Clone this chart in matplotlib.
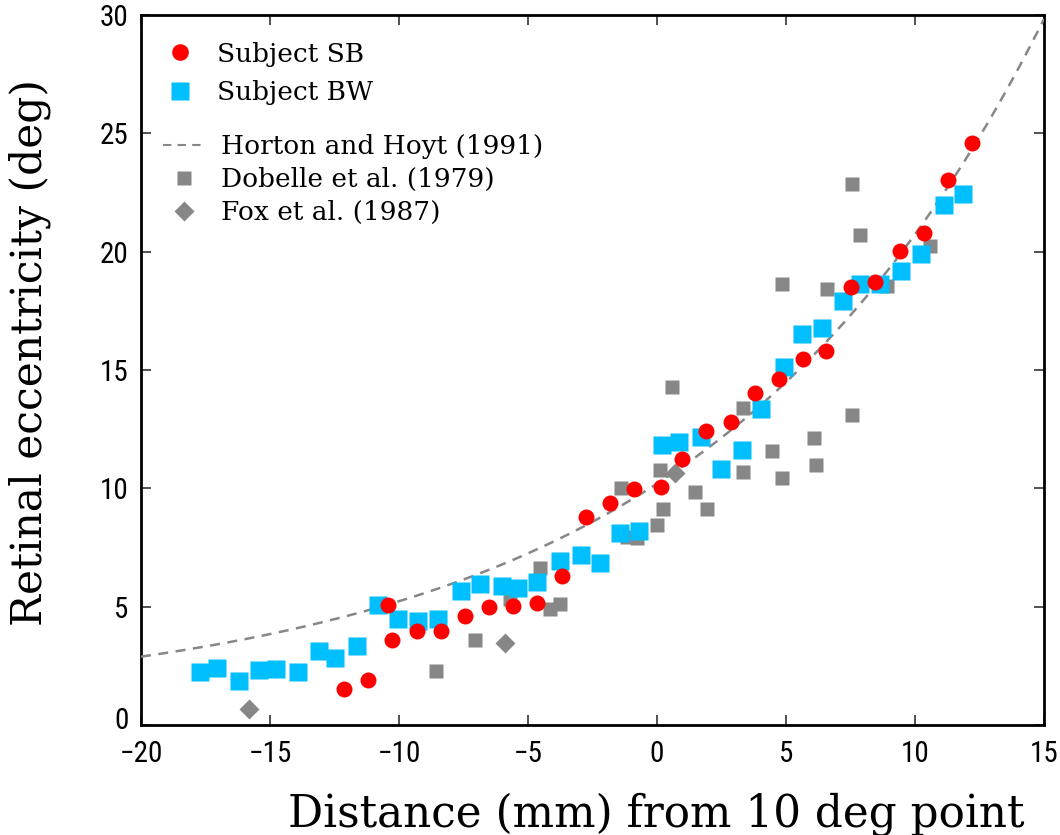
import numpy as np
import matplotlib
matplotlib.use("Agg")
import matplotlib.pyplot as plt
import matplotlib.transforms as mtransforms
from matplotlib.lines import Line2D
from matplotlib import font_manager

# subject SB (red circles)
sb_x = [-12.13, -11.20, -10.41, -10.26, -9.32, -8.38, -7.44, -6.51, -5.57, -4.64,
        -3.69, -2.76, -1.83, -0.90, 0.17, 0.98, 1.91, 2.86, 3.79, 4.72,
        5.66, 6.56, 7.53, 8.46, 9.41, 10.33, 11.28, 12.22]
sb_y = [1.52, 1.91, 5.08, 3.60, 3.99, 3.97, 4.60, 5.00, 5.01, 5.15,
        6.28, 8.80, 9.38, 9.97, 10.04, 11.24, 12.42, 12.80, 14.04, 14.63,
        15.45, 15.80, 18.50, 18.72, 20.03, 20.77, 23.05, 24.61]

# subject BW (blue squares)
bw_x = [-17.71, -17.06, -16.21, -15.44, -14.75, -13.93, -13.10, -12.50, -11.61, -10.80,
        -10.05, -9.27, -8.49, -7.60, -6.86, -6.02, -5.38, -4.67, -3.77, -2.94,
        -2.21, -1.43, -0.71, 0.19, 0.85, 1.69, 2.48, 3.29, 4.03, 4.91,
        5.62, 6.38, 7.21, 7.87, 8.64, 9.46, 10.23, 11.11, 11.85]
bw_y = [2.24, 2.40, 1.86, 2.32, 2.35, 2.22, 3.14, 2.83, 3.35, 5.06,
        4.48, 4.39, 4.46, 5.68, 5.97, 5.87, 5.80, 6.05, 6.94, 7.19,
        6.86, 8.11, 8.21, 11.85, 11.98, 12.17, 10.82, 11.62, 13.35, 15.14,
        16.53, 16.79, 17.92, 18.62, 18.62, 19.20, 19.90, 21.98, 22.45]

# Dobelle et al. (1979)
dob_x = [-8.58, -7.07, -5.70, -4.52, -4.14, -3.77, -1.40, -1.18, -0.77, 0.00,
         0.12, 0.24, 0.58, 1.47, 1.95, 3.32, 3.35, 4.45, 4.86, 4.84,
         6.10, 6.17, 6.58, 7.56, 7.88, 7.57, 8.90, 10.58]
dob_y = [2.28, 3.60, 5.31, 6.65, 4.91, 5.10, 10.01, 7.96, 7.90, 8.45,
         10.77, 9.11, 14.29, 9.84, 9.13, 13.38, 10.70, 11.58, 10.42, 18.64,
         12.11, 10.98, 18.42, 22.88, 20.70, 13.10, 18.56, 20.25]

# Fox et al. (1987)
fox_x = [-15.81, -5.88, 0.69]
fox_y = [0.69, 3.46, 10.66]

# Horton and Hoyt (1991) curve, parameters fitted to the figure
hh_a, hh_b, hh_c = 9.4, 0.0752, 0.8

GRAY = "#878787"
RED = "#ff0000"
BLUE = "#00bfff"
SERIF = ["DejaVu Serif"]

# condensed sans for the tick labels, if one is around
have = {f.name for f in font_manager.fontManager.ttflist}
SANS = [f for f in ["Liberation Sans Narrow", "DejaVu Sans Condensed", "Roboto Condensed"]
        if f in have] + ["DejaVu Sans"]
cond = SANS[0] != "DejaVu Sans"

fig = plt.figure(figsize=(10.6, 8.35), dpi=100)
ax = fig.add_axes([0.133, 0.1317, 0.852, 0.8503])

xc = np.linspace(-20, 15, 300)
ax.plot(dob_x, dob_y, "s", ms=9.5, color=GRAY, mec="none", zorder=2)
ax.plot(fox_x, fox_y, "D", ms=10, color=GRAY, mec="none", zorder=3)
ax.plot(xc, hh_a * np.exp(hh_b * xc) + hh_c, "--", color=GRAY, lw=1.8,
        dashes=(4, 3), zorder=4)
ax.plot(bw_x, bw_y, "s", ms=13, color=BLUE, mec="none", zorder=5)
ax.plot(sb_x, sb_y, "o", ms=11.5, color=RED, mec="none", zorder=6)

ax.set_xlim(-20, 15)
ax.set_ylim(0, 30)
ax.set_xticks(range(-20, 16, 5))
ax.set_yticks(range(0, 31, 5))
ax.tick_params(direction="in", length=7, width=1.2, top=True, right=True,
               labelsize=21 if cond else 17, pad=9, color="#333333")
ax.tick_params(axis="x", pad=11)
for lab in ax.get_xticklabels() + ax.get_yticklabels():
    lab.set_family(SANS)
# the 0 on the y axis sits a little higher, clear of the -20
lab0 = ax.get_yticklabels()[0]
lab0.set_transform(lab0.get_transform()
                   + mtransforms.ScaledTranslation(0, 7 / 100, fig.dpi_scale_trans))
for s in ax.spines.values():
    s.set_linewidth(2)

ax.set_xlabel("Distance (mm) from 10 deg point", fontsize=31.5, family=SERIF)
ax.xaxis.set_label_coords(0.571, -0.095, transform=ax.transAxes)
ax.xaxis.label.set_va("top")
ax.set_ylabel("Retinal eccentricity (deg)", fontsize=30.5, family=SERIF)
ax.yaxis.set_label_coords(-0.10, 0.525, transform=ax.transAxes)

h1 = [Line2D([], [], ls="none", marker="o", ms=12, color=RED, mec="none"),
      Line2D([], [], ls="none", marker="s", ms=13, color=BLUE, mec="none")]
leg1 = ax.legend(h1, ["Subject SB", "Subject BW"], loc="upper left",
                 bbox_to_anchor=(-0.006, 0.996), frameon=False, handlelength=1.6,
                 handletextpad=0.6, labelspacing=0.52,
                 prop={"family": SERIF, "size": 19})
ax.add_artist(leg1)
h2 = [Line2D([], [], ls="--", color=GRAY, lw=1.5, dashes=(4, 3)),
      Line2D([], [], ls="none", marker="s", ms=10, color=GRAY, mec="none"),
      Line2D([], [], ls="none", marker="D", ms=10, color=GRAY, mec="none")]
ax.legend(h2, ["Horton and Hoyt (1991)", "Dobelle et al. (1979)", "Fox et al. (1987)"],
          loc="upper left", bbox_to_anchor=(-0.002, 0.866), frameon=False,
          handlelength=1.6, handletextpad=0.6, labelspacing=0.3,
          prop={"family": SERIF, "size": 19})

fig.savefig("out.png", dpi=100)
